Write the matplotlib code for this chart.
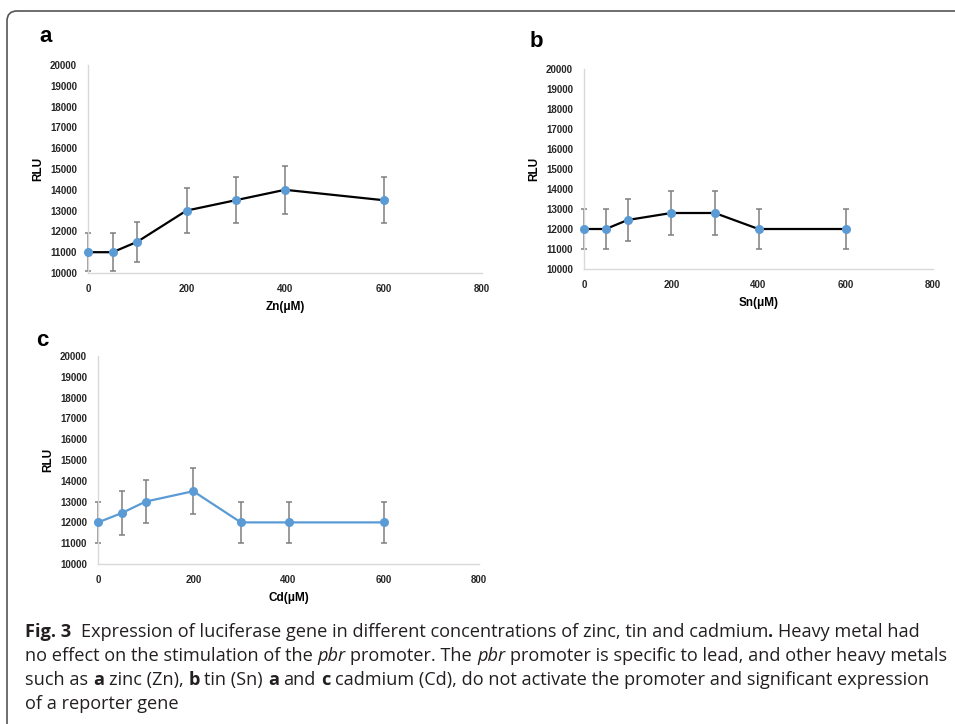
import matplotlib
matplotlib.use("Agg")
import matplotlib.pyplot as plt
from matplotlib.patches import FancyBboxPatch

# concentrations (uM) and luciferase readings (RLU)
conc = [0, 50, 100, 200, 300, 400, 600]
zn_rlu = [11000, 11000, 11500, 13000, 13500, 14000, 13500]
zn_err = [900, 900, 950, 1100, 1100, 1150, 1100]
sn_rlu = [12000, 12000, 12450, 12800, 12800, 12000, 12000]
sn_err = [1000, 1000, 1050, 1100, 1100, 1000, 1000]
cd_rlu = [12000, 12450, 13000, 13500, 12000, 12000, 12000]
cd_err = [1000, 1050, 1050, 1100, 1000, 1000, 1000]

x_ticks = [0, 200, 400, 600, 800]
y_ticks = list(range(10000, 20001, 1000))

tick_font = "Liberation Sans"
cap_font = "Open Sans"

W, H = 955, 724
fig = plt.figure(figsize=(W / 100, H / 100), dpi=100)

# rounded frame around the figure (runs off right and bottom edge)
frame = FancyBboxPatch((0.07, -0.5), 12, 7.63, boxstyle="round,pad=0,rounding_size=0.1",
                       transform=fig.dpi_scale_trans, fill=False, edgecolor="#555555",
                       linewidth=1.2, clip_on=False)
fig.patches.append(frame)

blue = "#5b9bd5"
gray = "#7f7f7f"


def px_axes(l, t, r, b):
    return fig.add_axes([l / W, 1 - b / H, (r - l) / W, (b - t) / H])


def draw_panel(ax, y, err, line_color, xlabel):
    ax.errorbar(conc, y, yerr=err, fmt="none", ecolor=gray, elinewidth=1.1,
                capsize=2, capthick=1.1, zorder=2, clip_on=False)
    ax.plot(conc, y, color=line_color, linewidth=1.6, zorder=3, clip_on=False)
    ax.plot(conc, y, "o", color=blue, markersize=5.5, zorder=4, clip_on=False)
    ax.set_xlim(0, 800)
    ax.set_ylim(10000, 20000)
    ax.set_xticks(x_ticks)
    ax.set_yticks(y_ticks)
    ax.tick_params(length=0, pad=8)
    for lab in ax.get_xticklabels() + ax.get_yticklabels():
        lab.set_fontfamily(tick_font)
        lab.set_fontsize(7)
        lab.set_fontweight("bold")
        lab.set_color("#262626")
    for s in ["top", "right"]:
        ax.spines[s].set_visible(False)
    for s in ["left", "bottom"]:
        ax.spines[s].set_color("#d9d9d9")
        ax.spines[s].set_linewidth(1.0)
    ax.set_xlabel(xlabel, fontfamily=tick_font, fontsize=8.5, fontweight="bold", labelpad=5)
    ax.set_ylabel("RLU", fontfamily=tick_font, fontsize=8.5, fontweight="bold", labelpad=4)


ax_a = px_axes(88, 65, 482, 273)
draw_panel(ax_a, zn_rlu, zn_err, "black", "Zn(μM)")
ax_b = px_axes(584, 69, 933, 269)
draw_panel(ax_b, sn_rlu, sn_err, "black", "Sn(μM)")
ax_c = px_axes(98, 356, 479, 564)
draw_panel(ax_c, cd_rlu, cd_err, blue, "Cd(μM)")

# panel letters
for letter, px, py in [("a", 39, 42), ("b", 530, 47), ("c", 36, 346)]:
    fig.text(px / W, 1 - py / H, letter, fontfamily="Liberation Sans", fontsize=16,
             fontweight="bold", va="baseline", ha="left")

# caption with mixed styles
caption = [
    [("Fig. 3", "bold"),
     ("  Expression of luciferase gene in different concentrations of zinc, tin and cadmium", "normal"),
     (".", "bold"), (" Heavy metal had", "normal")],
    [("no effect on the stimulation of the ", "normal"), ("pbr", "italic"),
     (" promoter. The ", "normal"), ("pbr", "italic"),
     (" promoter is specific to lead, and other heavy metals", "normal")],
    [("such as ", "normal"), ("a", "bold"), (" zinc (Zn), ", "normal"), ("b", "bold"),
     (" tin (Sn) ", "normal"), ("a", "bold"), (" and ", "normal"), ("c", "bold"),
     (" cadmium (Cd), do not activate the promoter and significant expression", "normal")],
    [("of a reporter gene", "normal")],
]
baselines = [637, 661, 685, 709]
cap_size = 13.1
renderer = fig.canvas.get_renderer()


def props(style):
    p = dict(fontfamily=cap_font, fontsize=cap_size, color="#231f20")
    if style == "bold":
        p["fontweight"] = "bold"
    elif style == "italic":
        p["fontstyle"] = "italic"
    return p


def width(s, style):
    t1 = fig.text(0, 0, "|" + s + "|", **props(style))
    t2 = fig.text(0, 0, "||", **props(style))
    w = t1.get_window_extent(renderer).width - t2.get_window_extent(renderer).width
    t1.remove()
    t2.remove()
    return w


for line, base in zip(caption, baselines):
    x = 25.0
    for s, style in line:
        stripped = s.lstrip(" ")
        lead = width(s[:len(s) - len(stripped)], style) if stripped != s else 0
        fig.text((x + lead) / W, 1 - base / H, stripped.rstrip(" "), va="baseline",
                 ha="left", **props(style))
        x += width(s, style)

fig.savefig("out.png", dpi=100)
